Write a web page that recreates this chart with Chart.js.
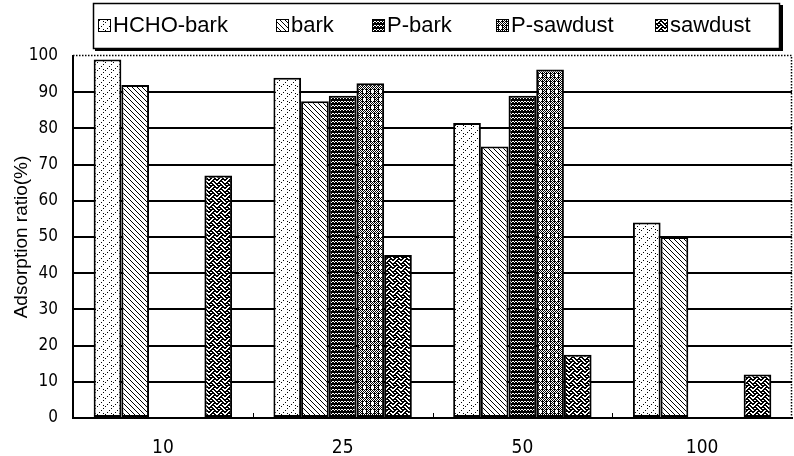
<!DOCTYPE html>
<html>
<head>
<meta charset="utf-8">
<script src="https://cdn.jsdelivr.net/npm/chart.js@4.4.0/dist/chart.umd.min.js"></script>
<style>
  html, body { margin: 0; padding: 0; background: #fff; }
</style>
</head>
<body>
<canvas id="chart" width="794" height="456"></canvas>
<script>
// concentrations on the x axis
const categories = ['10', '25', '50', '100'];
const seriesNames = ['HCHO-bark', 'bark', 'P-bark', 'P-sawdust', 'sawdust'];

// adsorption ratio (%)
const hchoBark = [99, 94, 81.5, 54];
const bark = [92, 87.5, 75, 50];
const pBark = [null, 89, 89, null];
const pSawdust = [null, 92.5, 96.3, null];
const sawdust = [67, 45, 17.5, 12];

const NARROW = "'Liberation Sans Narrow', 'DejaVu Sans Condensed', 'Liberation Sans', sans-serif";

// build a repeating fill from a little pixel map ('#' = ink)
function makePattern(rows, bold) {
    const w = rows[0].length;
    const c = document.createElement('canvas');
    c.width = w;
    c.height = rows.length;
    const g = c.getContext('2d');
    g.fillStyle = '#fff';
    g.fillRect(0, 0, c.width, c.height);
    g.fillStyle = '#000';
    rows.forEach((r, y) => {
        for (let x = 0; x < w; x++) {
            if (r[x] !== '#') continue;
            g.fillRect(x, y, 1, 1);
            if (bold) g.fillRect((x + 1) % w, y, 1, 1);
        }
    });
    return g.createPattern(c, 'repeat');
}

const fills = [
    // sparse dotted "/" hatch
    makePattern([
        '.......#',
        '........',
        '.....#..',
        '........',
        '...#....',
        '.......#',
        '.#......',
        '........'
    ]),
    // denser "\" hatch
    makePattern([
        '#....',
        '.#...',
        '..#..',
        '...#.',
        '....#'
    ]),
    // dark with white waves
    makePattern([
        '######',
        '.#..#.',
        '#.##.#',
        '######'
    ]),
    // dark with white diamonds
    makePattern([
        '#.#.#.#.',
        '.###.###',
        '#.#...#.',
        '.##...##',
        '#.#...#.',
        '.###.###',
        '#.#.#.#.',
        '.#.#.#.#'
    ]),
    // weave
    makePattern([
        '#...#...',
        '.#.#.#..',
        '..#...#.',
        '.#...#.#',
        '#...#...',
        '...#.#..',
        '..#...#.',
        '.#.#...#'
    ], true)
];

const seriesValues = [hchoBark, bark, pBark, pSawdust, sawdust];

const datasets = seriesNames.map((name, i) => ({
    label: name,
    data: seriesValues[i],
    backgroundColor: fills[i],
    borderColor: '#000',
    borderWidth: 2,
    borderSkipped: false,
    categoryPercentage: 0.77,
    barPercentage: 1.0
}));

// legend box, dotted frame and the little marks between groups
const framePlugin = {
    id: 'frame',
    afterDraw(chart) {
        const ctx = chart.ctx;
        const a = chart.chartArea;
        const x = chart.scales.x;
        ctx.save();

        ctx.strokeStyle = '#000';
        ctx.lineWidth = 1.5;
        ctx.setLineDash([1.5, 1.5]);
        ctx.beginPath();
        ctx.moveTo(a.left, a.top - 0.5);
        ctx.lineTo(a.right - 0.5, a.top - 0.5);
        ctx.lineTo(a.right - 0.5, a.bottom);
        ctx.stroke();
        ctx.setLineDash([]);

        ctx.lineWidth = 1;
        for (let i = 1; i < categories.length; i++) {
            const px = Math.round((x.getPixelForValue(i - 1) + x.getPixelForValue(i)) / 2) + 0.5;
            ctx.beginPath();
            ctx.moveTo(px, a.bottom);
            ctx.lineTo(px, a.bottom - 5);
            ctx.stroke();
        }

        // legend
        ctx.lineWidth = 1.5;
        ctx.strokeRect(93.5, 3.5, 686, 45);
        ctx.fillStyle = '#000';
        ctx.fillRect(95, 48, 688, 3);
        ctx.fillRect(779, 5, 4, 46);

        const squareX = [98, 276, 372, 496, 655];
        ctx.font = "22px 'Liberation Sans', Arial, sans-serif";
        ctx.textBaseline = 'middle';
        chart.data.datasets.forEach((ds, i) => {
            const sx = squareX[i];
            ctx.fillStyle = ds.backgroundColor;
            ctx.fillRect(sx, 19, 12, 12);
            ctx.lineWidth = 1;
            ctx.strokeRect(sx + 0.5, 19.5, 12, 12);
            ctx.fillStyle = '#000';
            ctx.fillText(ds.label, sx + 15, 26);
        });

        ctx.restore();
    }
};

new Chart(document.getElementById('chart'), {
    type: 'bar',
    data: {
        labels: categories,
        datasets: datasets
    },
    options: {
        responsive: false,
        animation: false,
        devicePixelRatio: 1,
        layout: {
            padding: { top: 56, right: 2, left: 0, bottom: 0 }
        },
        scales: {
            x: {
                grid: { display: false },
                border: { display: true, color: '#000', width: 2 },
                ticks: {
                    color: '#000',
                    padding: 11,
                    font: { family: NARROW, size: 19 }
                },
                afterFit(scale) { scale.height = 38; }
            },
            y: {
                min: 0,
                max: 100,
                ticks: {
                    stepSize: 10,
                    color: '#000',
                    padding: 15,
                    font: { family: NARROW, size: 17 }
                },
                grid: {
                    drawTicks: false,
                    lineWidth: 2,
                    color: ctx => ctx.tick && ctx.tick.value === 100 ? 'rgba(0,0,0,0)' : '#000'
                },
                border: { display: true, color: '#000', width: 2 },
                title: {
                    display: true,
                    text: 'Adsorption ratio(%)',
                    color: '#000',
                    padding: { top: 10, bottom: 0 },
                    font: { family: "'Liberation Sans', Arial, sans-serif", size: 19 }
                },
                afterFit(scale) { scale.width = 73; }
            }
        },
        plugins: {
            legend: { display: false },
            tooltip: { enabled: false }
        }
    },
    plugins: [framePlugin]
});
</script>
</body>
</html>
